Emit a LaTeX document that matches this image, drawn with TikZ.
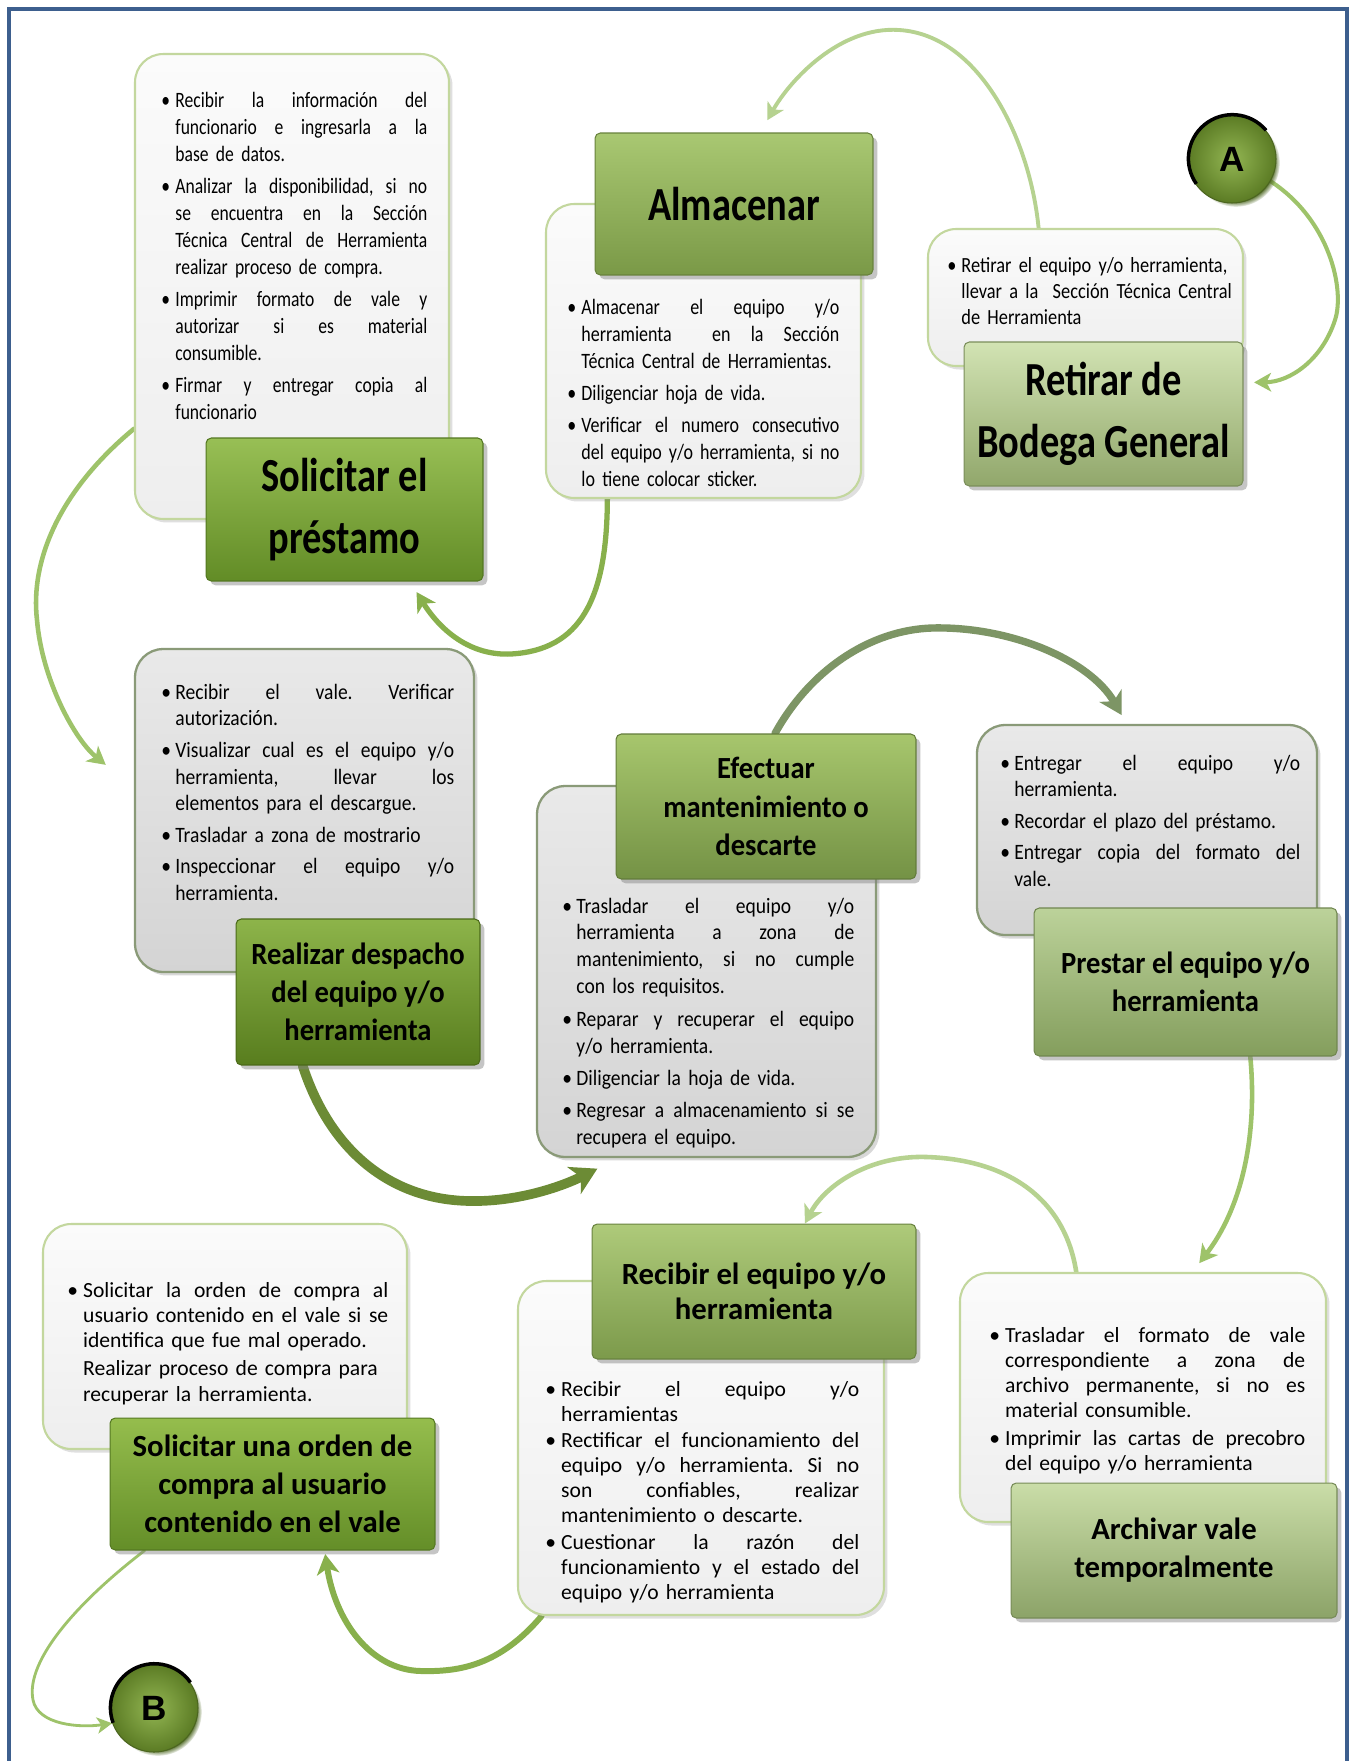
\documentclass[tikz,border=0pt]{standalone}
\usepackage{fontspec}
\setmainfont{Carlito}
\newfontfamily\fTtl[FakeStretch=0.81]{Carlito}
\newfontfamily\fMid[FakeStretch=0.93]{Carlito}
\newfontfamily\fBodyA[FakeStretch=0.80]{Carlito}
\newfontfamily\fBodyAA[FakeStretch=0.82]{Carlito}
\newfontfamily\fBodyB[FakeStretch=0.85]{Carlito}
\newfontfamily\fBodyC[FakeStretch=0.89]{Carlito}
\newfontfamily\fPlain{Carlito}
\newfontfamily\fLetter{Liberation Sans}
\usetikzlibrary{arrows.meta,shadows,backgrounds}
\hyphenpenalty=10000
\exhyphenpenalty=10000
\frenchspacing

% colours
\definecolor{frameblue}{HTML}{3D5F8E}
\definecolor{lightborder}{HTML}{C3D79E}
\definecolor{grayborder}{HTML}{8A9A78}
\definecolor{lightA}{HTML}{FBFBFB}
\definecolor{lightB}{HTML}{EEEEEE}
\definecolor{grayA}{HTML}{E9E9E9}
\definecolor{grayB}{HTML}{D4D4D4}
\definecolor{sOneT}{HTML}{98BF55}\definecolor{sOneB}{HTML}{628C26}
\definecolor{sTwoT}{HTML}{A9C872}\definecolor{sTwoB}{HTML}{7A9947}
\definecolor{sThrT}{HTML}{D2E3B3}\definecolor{sThrB}{HTML}{91A76B}
\definecolor{sFouT}{HTML}{8DB44A}\definecolor{sFouB}{HTML}{587D1E}
\definecolor{sFivT}{HTML}{A7C66D}\definecolor{sFivB}{HTML}{749245}
\definecolor{sSixT}{HTML}{BCD29A}\definecolor{sSixB}{HTML}{849E5D}
\definecolor{sSevT}{HTML}{AECA7A}\definecolor{sSevB}{HTML}{7C9A4B}
\definecolor{sEigT}{HTML}{CADDA8}\definecolor{sEigB}{HTML}{8CA368}
\definecolor{sNinT}{HTML}{95BD4D}\definecolor{sNinB}{HTML}{648E28}
\definecolor{ballIn}{HTML}{93B653}
\definecolor{ballOut}{HTML}{5B7B24}
\definecolor{ballShade}{HTML}{4C6620}
\definecolor{arLight}{HTML}{B6D290}
\definecolor{arMid}{HTML}{9EC36A}
\definecolor{arStrong}{HTML}{88B04C}
\definecolor{arDark}{HTML}{6C8B35}
\definecolor{arGrey}{HTML}{7D9565}

% text helpers: bullet, hanging indent, justified line
\newlength\bind
\setlength\bind{8pt}
\newcommand\B{\makebox[\bind][l]{\textbullet}}
\newcommand\I{\hspace*{\bind}}
\newcommand\J[1]{\makebox[\dimexpr\hsize-\bind\relax][s]{\spaceskip=0pt\xspaceskip=0pt #1}}

% fonts
\newcommand\bigttl{\fTtl\bfseries\fontsize{27}{35}\selectfont}
\newcommand\midttl{\fMid\bfseries\fontsize{17.5}{21.7}\selectfont}
\newcommand\lowttl{\fPlain\bfseries\fontsize{17.5}{21.7}\selectfont}
\newcommand\bodyA{\fBodyA\fontsize{12.5}{15.5}\selectfont}
\newcommand\bodyAA{\fBodyAA\fontsize{12.5}{15.4}\selectfont}
\newcommand\bodyB{\fBodyB\fontsize{12.3}{15}\selectfont}
\newcommand\bodyC{\fBodyC\fontsize{12.5}{15.3}\selectfont}
\newcommand\bodyD{\fPlain\fontsize{12.3}{14.3}\selectfont}

\tikzset{
  frame/.style={draw=frameblue, line width=2.5pt},
  lightbox/.style={rounded corners=16pt, top color=lightA, bottom color=lightB,
    draw=lightborder, line width=1.2pt,
    drop shadow={shadow xshift=2pt, shadow yshift=-2pt, opacity=0.25}},
  graybox/.style={rounded corners=16pt, top color=grayA, bottom color=grayB,
    draw=grayborder, line width=1.3pt,
    drop shadow={shadow xshift=2pt, shadow yshift=-2pt, opacity=0.3}},
  ttlbox/.style 2 args={rounded corners=3pt, top color=#1, bottom color=#2,
    draw=#2!85!black, line width=0.6pt, align=center, inner sep=2pt,
    drop shadow={shadow xshift=2.5pt, shadow yshift=-2.5pt, opacity=0.45}},
  body/.style={inner sep=0pt, anchor=base west, align=left},
  ball/.style={circle, minimum size=1.76cm, inner sep=0pt,
    inner color=ballIn, outer color=ballOut, draw=ballShade, line width=0.6pt,
    font=\fLetter\bfseries\fontsize{20}{20}\selectfont, text=black,
    circular drop shadow={shadow xshift=2.2pt, shadow yshift=-2.2pt, opacity=1,
      fill=ballShade, shadow scale=1}},
  rim/.style={draw=black, line width=2pt},
  flow/.style 2 args={draw=#1, line width=#2, line cap=round,
    -{Stealth[width=#2*2+6pt, length=#2*1.6+6pt, inset=#2*0.5+1.5pt]}},
}

\begin{document}
\begin{tikzpicture}[x=0.02cm, y=-0.02cm]
\useasboundingbox (0,0) rectangle (1356,1761);
\begin{scope}[on background layer]
  \fill[white] (0,0) rectangle (1356,1761);
\end{scope}
\draw[frame] (9,1775) -- (9,9) -- (1347,9) -- (1347,1775);

% ---------- text boxes ----------
\node[lightbox, minimum width=6.28cm, minimum height=9.30cm] (t1) at (292,286.5) {};
\node[lightbox, minimum width=6.30cm, minimum height=5.88cm] (t2) at (703.5,351) {};
\node[lightbox, minimum width=6.30cm, minimum height=2.74cm] (t3) at (1085.5,297.5) {};
\node[graybox, minimum width=6.78cm, minimum height=6.46cm] (t4) at (304.5,810.5) {};
\node[graybox, minimum width=6.78cm, minimum height=7.42cm] (t5) at (706.5,971.5) {};
\node[graybox, minimum width=6.80cm, minimum height=4.20cm] (t6) at (1147,830) {};
\node[lightbox, minimum width=7.32cm, minimum height=6.68cm] (t7) at (701,1448) {};
\node[lightbox, minimum width=7.32cm, minimum height=4.98cm] (t8) at (1143,1397.5) {};
\node[lightbox, minimum width=7.28cm, minimum height=4.50cm] (t9) at (225,1336.5) {};

% ---------- body texts ----------
\node[body, text width=5.32cm, font=\bodyA] (b1) at (161,107) {%
\B\J{Recibir la información del}\\
\I\J{funcionario e ingresarla a la}\\
\I base de datos.\\[2.5pt]
\B\J{Analizar la disponibilidad, si no}\\
\I\J{se encuentra en la Sección}\\
\I\J{Técnica Central de Herramienta}\\
\I realizar proceso de compra.\\[2.5pt]
\B\J{Imprimir formato de vale y}\\
\I\J{autorizar si es material}\\
\I consumible.\\[2.5pt]
\B\J{Firmar y entregar copia al}\\
\I funcionario};

\node[body, text width=5.44cm, font=\bodyAA] (b2) at (567,314) {%
\B\J{Almacenar el equipo y/o}\\
\I\J{herramienta\ \ en la Sección}\\
\I Técnica Central de Herramientas.\\[2.8pt]
\B Diligenciar hoja de vida.\\[2.8pt]
\B\J{Verificar el numero consecutivo}\\
\I\J{del equipo y/o herramienta, si no}\\
\I lo tiene colocar sticker.};

\node[body, text width=6.4cm, font=\bodyB] (b3) at (947,272) {%
\B Retirar el equipo y/o herramienta,\\
\I llevar a la\ \ Sección Técnica Central\\
\I de Herramienta};

\node[body, text width=5.86cm, font=\bodyC] (b4) at (161,699) {%
\B\J{Recibir el vale. Verificar}\\
\I autorización.\\[2.5pt]
\B\J{Visualizar cual es el equipo y/o}\\
\I\J{herramienta, llevar los}\\
\I elementos para el descargue.\\[2.5pt]
\B Trasladar a zona de mostrario\\[2.5pt]
\B\J{Inspeccionar el equipo y/o}\\
\I herramienta.};

\node[body, text width=5.84cm, font=\bodyC] (b5) at (562,913) {%
\B\J{Trasladar el equipo y/o}\\
\I\J{herramienta a zona de}\\
\I\J{mantenimiento, si no cumple}\\
\I con los requisitos.\\[3.5pt]
\B\J{Reparar y recuperar el equipo}\\
\I y/o herramienta.\\[3pt]
\B Diligenciar la hoja de vida.\\[3pt]
\B\J{Regresar a almacenamiento si se}\\
\I recupera el equipo.};

\node[body, text width=6.0cm, font=\bodyC] (b6) at (1000,770) {%
\B\J{Entregar el equipo y/o}\\
\I herramienta.\\[2.5pt]
\B Recordar el plazo del préstamo.\\[2.5pt]
\B\J{Entregar copia del formato del}\\
\I vale.};

\setlength\bind{9pt}
\node[body, text width=6.28cm, font=\bodyD] (b7) at (545,1396) {%
\B\J{Recibir el equipo y/o}\\
\I herramientas\\[0.5pt]
\B\J{Rectificar el funcionamiento del}\\
\I\J{equipo y/o herramienta. Si no}\\
\I\J{son confiables, realizar}\\
\I mantenimiento o descarte.\\[0.8pt]
\B\J{Cuestionar la razón del}\\
\I\J{funcionamiento y el estado del}\\
\I equipo y/o herramienta};

\node[body, text width=6.32cm, font=\bodyD] (b8) at (989,1342) {%
\B\J{Trasladar el formato de vale}\\
\I\J{correspondiente a zona de}\\
\I\J{archivo permanente, si no es}\\
\I material consumible.\\[1.7pt]
\B\J{Imprimir las cartas de precobro}\\
\I del equipo y/o herramienta};

\node[body, text width=6.42cm, font=\bodyD] (b9) at (67,1297) {%
\B\J{Solicitar la orden de compra al}\\
\I\J{usuario contenido en el vale si se}\\
\I identifica que fue mal operado.\\[2pt]
\I Realizar proceso de compra para\\
\I recuperar la herramienta.};

% ---------- step titles ----------
\node[ttlbox={sOneT}{sOneB}, minimum width=5.54cm, minimum height=2.86cm, font=\bigttl]
  (s1) at (344.5,509.5) {Solicitar el\\préstamo};
\node[ttlbox={sTwoT}{sTwoB}, minimum width=5.56cm, minimum height=2.84cm, font=\bigttl]
  (s2) at (734,204) {Almacenar};
\node[ttlbox={sThrT}{sThrB}, minimum width=5.58cm, minimum height=2.88cm, font=\bigttl]
  (s3) at (1103.5,414) {Retirar de\\Bodega General};
\node[ttlbox={sFouT}{sFouB}, minimum width=4.88cm, minimum height=2.92cm, font=\midttl]
  (s4) at (358,992) {Realizar despacho\\del equipo y/o\\herramienta};
\node[ttlbox={sFivT}{sFivB}, minimum width=6.00cm, minimum height=2.90cm, font=\midttl]
  (s5) at (766,806.5) {Efectuar\\mantenimiento o\\descarte};
\node[ttlbox={sSixT}{sSixB}, minimum width=6.06cm, minimum height=2.96cm, font=\midttl]
  (s6) at (1185.5,982) {Prestar el equipo y/o\\herramienta};
\node[ttlbox={sSevT}{sSevB}, minimum width=6.48cm, minimum height=2.70cm,
  font=\fPlain\bfseries\fontsize{17.5}{19.8}\selectfont]
  (s7) at (754,1291.5) {Recibir el equipo y/o\\herramienta};
\node[ttlbox={sEigT}{sEigB}, minimum width=6.52cm, minimum height=2.70cm, font=\lowttl]
  (s8) at (1174,1550.5) {Archivar vale\\temporalmente};
\node[ttlbox={sNinT}{sNinB}, minimum width=6.50cm, minimum height=2.64cm, font=\lowttl]
  (s9) at (272.5,1484) {Solicitar una orden de\\compra al usuario\\contenido en el vale};

% ---------- connectors A and B ----------
\node[ball] (cA) at (1232,159) {A};
\node[ball] (cB) at (154,1708) {B};
\draw[rim] (cA.40) arc[start angle=40, end angle=215, radius=0.88cm];
\draw[rim] (cB.35) arc[start angle=35, end angle=200, radius=0.88cm];

% ---------- curved arrows ----------
\begin{scope}[on background layer]
\draw[flow={arMid}{2.3pt}]
  (cA.-30) .. controls (1330,220) and (1345,290) .. (1335,320)
  .. controls (1322,360) and (1290,382) .. ([xshift=6pt,yshift=18pt]s3.east);
\draw[flow={arLight}{2.2pt}]
  (t3.124) .. controls (1030,140) and (980,35) .. (899,30)
  .. controls (840,26) and (790,80) .. ([yshift=7pt]s2.65);
\draw[flow={arStrong}{3pt}]
  (t2.237) .. controls (607,600) and (580,650) .. (511,654)
  .. controls (470,656) and (440,630) .. ([yshift=-6pt]s1.-45);
\draw[flow={arMid}{2.6pt}]
  (t1.222) .. controls (60,490) and (30,560) .. (37,620)
  .. controls (42,680) and (75,740) .. ([xshift=-16pt,yshift=26pt]t4.west);
\draw[flow={arDark}{5.5pt}]
  (s4.233) .. controls (330,1150) and (390,1200) .. (470,1201)
  .. controls (520,1202) and (565,1185) .. ([xshift=35pt,yshift=-6pt]t5.south west);
\draw[flow={arGrey}{4.2pt}]
  (s5.83) .. controls (810,670) and (870,630) .. (932,628)
  .. controls (1010,626) and (1090,660) .. ([xshift=83pt,yshift=5pt]t6.north west);
\draw[flow={arMid}{2.6pt}]
  (s6.-49) .. controls (1258,1140) and (1240,1210) .. ([xshift=32pt,yshift=5pt]t8.north);
\draw[flow={arLight}{2.6pt}]
  (t8.118) .. controls (1065,1200) and (1010,1160) .. (927,1157)
  .. controls (870,1155) and (825,1185) .. ([xshift=29pt]s7.north);
\draw[flow={arStrong}{3.4pt}]
  ([xshift=14pt]t7.south west) .. controls (500,1665) and (460,1672) .. (421,1671)
  .. controls (370,1670) and (335,1620) .. ([xshift=30pt,yshift=-2pt]s9.south);
\draw[flow={arMid}{1.6pt}]
  ([xshift=20pt]s9.south west) .. controls (80,1600) and (25,1660) .. (33,1700)
  .. controls (38,1725) and (80,1728) .. (cB.200);
\end{scope}
\end{tikzpicture}
\end{document}
